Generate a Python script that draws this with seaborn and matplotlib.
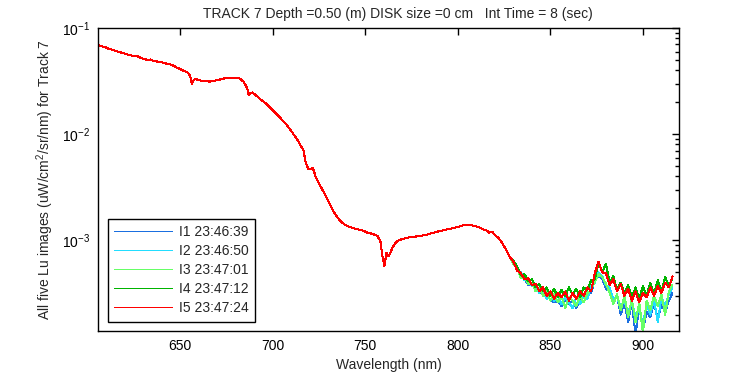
import matplotlib
matplotlib.use("Agg")
import matplotlib.pyplot as plt
import numpy as np
import pandas as pd
import seaborn as sns

# 1. Values
# smooth part of the spectrum (all five images overlap here)
wl_main = [605.7, 607, 609, 611, 613, 615, 617.6, 620, 622, 624.6, 627, 629, 632,
           634, 635.5, 637.6, 640, 643, 645, 646.5, 648.4, 650, 651.6, 653, 654.3,
           655.4, 656.3, 657, 658.1, 660, 662, 664, 666.2, 668, 670, 673.3, 676,
           678, 680.8, 682, 684.1, 685.5, 686.3, 686.9, 688, 689, 690.5, 691.6,
           693, 694.9, 697, 698.7, 700.5, 702, 704.1, 706, 707.5, 709.5, 711.5,
           713.8, 715, 716.5, 717.6, 719.2, 720.5, 721.4, 722.2, 723, 725.7,
           727.5, 729.5, 731, 732.7, 734.5, 736.5, 738.5, 740.3, 743, 745.7,
           748.5, 751.1, 754, 756.5, 758.1, 759.2, 760.3, 761.4, 762.5, 763.5,
           764.6, 766, 767.3, 770, 772.7, 776, 779.8, 783, 786.8, 790, 794.3,
           798, 801.4, 804, 806.8, 809, 812.2, 814, 815.5, 817, 818.5, 820, 822,
           824, 826, 828]
lu_main = [0.0690, 0.0675, 0.0665, 0.0640, 0.0625, 0.0610, 0.0590, 0.0575, 0.0560,
           0.0546, 0.0540, 0.0520, 0.0502, 0.0505, 0.0490, 0.0483, 0.0475, 0.0459,
           0.0452, 0.0440, 0.0421, 0.0410, 0.0397, 0.0388, 0.0378, 0.0349, 0.0296,
           0.0320, 0.0332, 0.0322, 0.0318, 0.0314, 0.0313, 0.0318, 0.0322, 0.0334,
           0.0338, 0.0341, 0.0341, 0.0335, 0.0313, 0.0285, 0.0262, 0.0235, 0.0245,
           0.0247, 0.0235, 0.0226, 0.0215, 0.0203, 0.0190, 0.0177, 0.0165, 0.0154,
           0.0142, 0.0130, 0.0122, 0.0110, 0.0098, 0.00855, 0.00780, 0.00715,
           0.00556, 0.00465, 0.00470, 0.00482, 0.00450, 0.00402, 0.00324, 0.00285,
           0.00243, 0.00215, 0.00188, 0.00168, 0.00152, 0.00142, 0.00136, 0.00131,
           0.00127, 0.00124, 0.00118, 0.00115, 0.00110, 0.000984, 0.000713,
           0.000574, 0.000766, 0.000713, 0.000760, 0.000853, 0.000930, 0.000984,
           0.00103, 0.00106, 0.00108, 0.00110, 0.00113, 0.00118, 0.00122, 0.00127,
           0.00131, 0.00136, 0.00140, 0.00139, 0.00137, 0.00131, 0.00126, 0.00124,
           0.00118, 0.00121, 0.00112, 0.00105, 0.00094, 0.00082, 0.00070]

# noisy tail, one list per image (units of 1e-4)
wl_tail = list(range(830, 918, 2))
tail_i1 = [6.1, 5.6, 4.5, 4.4, 3.8, 3.9, 3.4, 3.3, 3.1, 2.9, 2.8, 2.6, 2.7, 2.4, 2.8,
           2.5, 2.7, 2.3, 2.8, 2.6, 3.1, 3.2, 4.2, 4.6, 4.4, 3.5, 3.3, 2.6, 3.0, 2.0,
           2.6, 1.7, 2.6, 1.3, 2.4, 1.45, 2.1, 1.9, 2.6, 1.8, 2.5, 2.1, 2.7, 3.2]
tail_i2 = [6.5, 5.3, 5.0, 4.2, 4.3, 3.7, 3.8, 3.2, 3.4, 2.8, 3.2, 2.7, 3.0, 2.5, 2.9,
           2.6, 2.3, 2.9, 2.5, 3.0, 2.8, 3.7, 4.0, 5.0, 4.6, 3.8, 3.6, 2.8, 2.9, 2.4,
           2.7, 2.1, 2.6, 1.9, 2.3, 1.6, 2.5, 2.0, 2.8, 1.7, 2.9, 2.4, 3.1, 3.6]
tail_i3 = [6.0, 5.5, 4.4, 4.6, 3.9, 4.0, 3.3, 3.6, 3.0, 3.3, 2.7, 3.1, 2.6, 3.0, 2.3,
           2.9, 2.7, 2.4, 3.0, 2.6, 3.2, 3.4, 4.1, 4.8, 4.5, 3.9, 3.2, 2.5, 3.1, 2.2,
           3.0, 1.9, 2.8, 1.7, 2.6, 1.35, 2.7, 2.2, 3.0, 2.4, 3.1, 2.0, 3.3, 3.8]
tail_i4 = [6.4, 5.7, 4.7, 4.8, 4.1, 4.3, 3.6, 3.9, 3.3, 3.6, 3.0, 3.5, 2.9, 3.4, 3.0,
           3.6, 3.1, 3.5, 2.9, 3.6, 3.4, 4.2, 4.3, 6.2, 5.0, 6.0, 4.0, 4.6, 3.4, 4.0,
           3.2, 3.8, 2.9, 3.6, 2.8, 3.7, 3.0, 4.0, 3.1, 4.2, 3.3, 4.5, 3.7, 4.4]
tail_i5 = [6.3, 5.2, 4.9, 4.3, 4.4, 3.8, 3.9, 3.3, 3.6, 3.0, 3.3, 2.8, 3.2, 2.9, 3.3,
           2.7, 3.2, 2.8, 3.3, 3.0, 3.6, 3.3, 4.9, 6.3, 5.0, 4.9, 3.8, 4.3, 3.3, 3.9,
           3.0, 3.5, 2.7, 3.3, 2.6, 3.2, 2.9, 3.6, 3.0, 3.7, 3.2, 4.0, 3.6, 4.6]

labels = ["I1 23:46:39", "I2 23:46:50", "I3 23:47:01", "I4 23:47:12", "I5 23:47:24"]
colors = ["#1a6fe0", "#22ddff", "#66ff66", "#00b400", "#ff0000"]
tails = [tail_i1, tail_i2, tail_i3, tail_i4, tail_i5]

# 2. Long table for seaborn
frames = []
for lab, tail in zip(labels, tails):
    frames.append(pd.DataFrame({
        "wavelength": wl_main + wl_tail,
        "lu": lu_main + list(np.array(tail) * 1e-4),
        "image": lab,
    }))
df = pd.concat(frames, ignore_index=True)

# 3. Plot (MATLAB-like look: crisp lines, ticks inside, box on)
sns.set_theme(style="white")
plt.rcParams["font.family"] = ["Liberation Sans", "DejaVu Sans"]
plt.rcParams.update({"font.size": 10, "mathtext.fontset": "custom",
                     "mathtext.rm": "Liberation Sans",
                     "lines.antialiased": False})

fig = plt.figure(figsize=(7.5, 3.75), dpi=100)
ax = fig.add_axes([98 / 750, 1 - 331 / 375, 581 / 750, 303 / 375])

sns.lineplot(data=df, x="wavelength", y="lu", hue="image", hue_order=labels,
             palette=colors, sort=False, estimator=None, linewidth=0.75, ax=ax)

ax.set_yscale("log")
ax.set_xlim(605.5, 919.5)
ax.set_ylim(1.4e-4, 0.1)
ax.set_xticks([650, 700, 750, 800, 850, 900])

for side in ax.spines.values():
    side.set_color("black")
    side.set_linewidth(1)
ax.tick_params(axis="both", which="both", direction="in", top=True, right=True,
               colors="black", labelsize=10)
ax.tick_params(axis="both", which="major", length=5, width=1)
ax.tick_params(axis="y", which="minor", length=3, width=1)
ax.tick_params(axis="y", which="major", pad=6)
ax.tick_params(axis="x", which="major", pad=6)

ax.set_xlabel("Wavelength (nm)", fontsize=10, labelpad=3)
ax.set_ylabel("All five Lu images (uW/cm$^2$/sr/nm) for Track 7", fontsize=10)
ax.set_title("TRACK 7 Depth =0.50 (m) DISK size =0 cm   Int Time = 8 (sec)",
             fontsize=10, x=0.516, pad=7)

handles, _ = ax.get_legend_handles_labels()
leg = ax.legend(handles, labels, loc="lower left", bbox_to_anchor=(0.017, 0.031),
                borderaxespad=0, fancybox=False, edgecolor="black", framealpha=1,
                handlelength=4.2, handletextpad=0.45, labelspacing=0.36,
                borderpad=0.45, fontsize=10)
leg.get_frame().set_linewidth(1)
for line in leg.get_lines():
    line.set_linewidth(0.5)

fig.savefig("out.png", dpi=100)
